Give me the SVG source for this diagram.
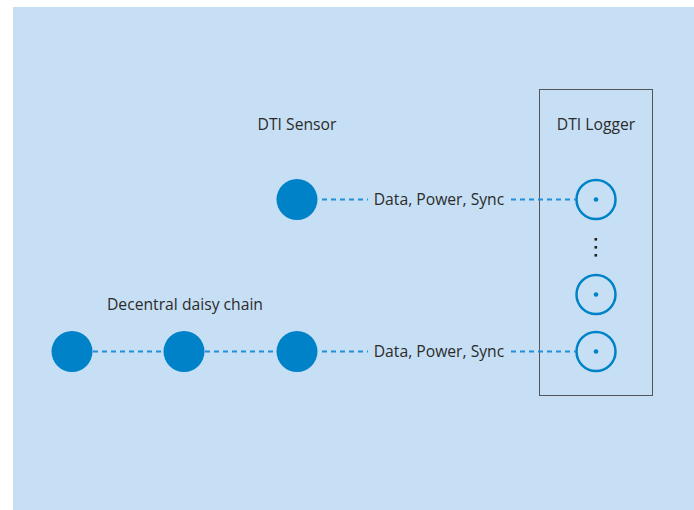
<svg xmlns="http://www.w3.org/2000/svg" width="694" height="510" viewBox="0 0 694 510">
<style>
.lbl{font-family:"Open Sans","Noto Sans","Liberation Sans",sans-serif;font-size:15.7px;fill:#2b2b2b}
.node{fill:#0082c8}
.port{fill:none;stroke:#0082c8;stroke-width:2.5}
.dot{fill:#0082c8}
.wire{stroke:#1e90d8;stroke-width:1.8;stroke-dasharray:5 4;fill:none}
</style>
<rect x="13" y="7" width="681" height="503" fill="#c6dff4"/>
<g id="logger">
<rect x="539.5" y="89.5" width="113" height="306" fill="none" stroke="#555555" stroke-width="1"/>
<text class="lbl" x="596" y="130" text-anchor="middle">DTI Logger</text>
<rect x="594.5" y="238" width="2.6" height="2.6" fill="#222"/>
<rect x="594.5" y="246" width="2.6" height="2.6" fill="#222"/>
<rect x="594.5" y="254" width="2.6" height="2.6" fill="#222"/>
</g>
<g id="port1"><circle class="port" cx="596" cy="199.5" r="19.5"/><circle class="dot" cx="596" cy="199.5" r="2.3"/></g>
<g id="port2"><circle class="port" cx="596" cy="294.5" r="19.5"/><circle class="dot" cx="596" cy="294.5" r="2.3"/></g>
<g id="port3"><circle class="port" cx="596" cy="351.5" r="19.5"/><circle class="dot" cx="596" cy="351.5" r="2.3"/></g>
<g id="sensor">
<text class="lbl" x="297" y="130" text-anchor="middle">DTI Sensor</text>
<circle class="node" cx="297" cy="199.5" r="20.5"/>
</g>
<g id="chain-label"><text class="lbl" x="185" y="310" text-anchor="middle">Decentral daisy chain</text></g>
<g id="chain1"><circle class="node" cx="72" cy="351.5" r="20.5"/></g>
<g id="chain2"><circle class="node" cx="184" cy="351.5" r="20.5"/></g>
<g id="chain3"><circle class="node" cx="297" cy="351.5" r="20.5"/></g>
<g id="connectors">
<line class="wire" x1="322" y1="199.5" x2="368" y2="199.5"/>
<line class="wire" x1="511" y1="199.5" x2="576" y2="199.5"/>
<line class="wire" x1="93" y1="351.5" x2="163" y2="351.5"/>
<line class="wire" x1="205" y1="351.5" x2="276" y2="351.5"/>
<line class="wire" x1="322" y1="351.5" x2="368" y2="351.5"/>
<line class="wire" x1="511" y1="351.5" x2="576" y2="351.5"/>
<text class="lbl" x="439" y="205" text-anchor="middle">Data, Power, Sync</text>
<text class="lbl" x="439" y="357" text-anchor="middle">Data, Power, Sync</text>
</g>
</svg>
